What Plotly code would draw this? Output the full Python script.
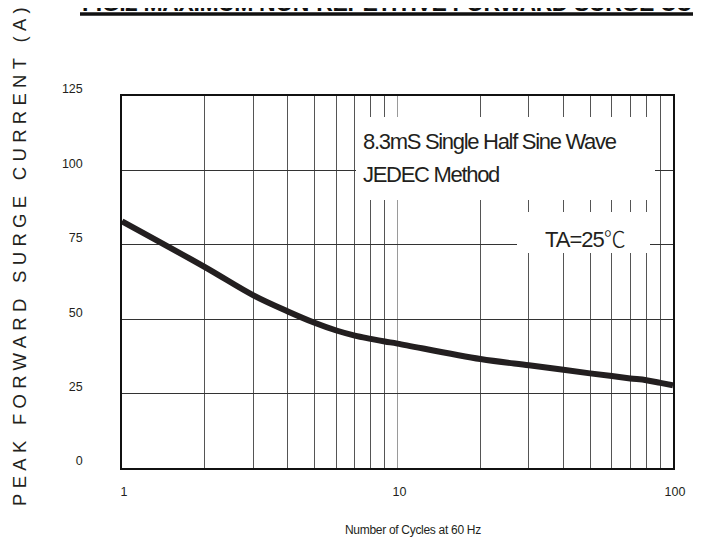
import plotly.graph_objects as go

# ---- data ----
cycles = [1, 2, 3, 4, 5, 6, 7, 8, 9, 10, 20, 30, 40, 50, 60, 70, 80, 90, 100]
surge_current = [82.9, 67.5, 58.0, 52.6, 48.8, 46.2, 44.5, 43.4, 42.5, 41.8,
                 36.6, 34.5, 33.0, 31.8, 30.9, 30.1, 29.5, 28.6, 27.8]
x_tickvals = [1, 10, 100]
x_ticktext = ["1", "10", "100"]
y_tickvals = [0, 25, 50, 75, 100, 125]
y_ticktext = ["0", "25", "50", "75", "100", "125"]

title_text = "FIG.2 MAXIMUM NON-REPETITIVE FORWARD SURGE CURRENT"
y_title = "PEAK FORWARD SURGE CURRENT (A)"
x_title = "Number of Cycles at 60 Hz"
note1_line1 = "8.3mS Single Half Sine Wave"
note1_line2 = "JEDEC Method"
note2 = "TA=25℃"

# ---- layout geometry (page pixels; the page body has an 8px margin) ----
OFF = 8
W, H = 701 - OFF, 538 - OFF
L, R, T, B = 122 - OFF, 28, 96 - OFF, 70
PW, PH = W - L - R, H - T - B

def px(xp):
    return (xp - OFF - L) / PW

def py(yp):
    return (H - B - (yp - OFF)) / PH

def tight(s, ls):
    return '<span style="letter-spacing:%spx">%s</span>' % (ls, s)

SANS = "Liberation Sans, Arial, sans-serif"
TXT = "#231f20"

fig = go.Figure()
fig.add_trace(go.Scatter(
    x=cycles, y=surge_current, mode="lines",
    line=dict(color=TXT, width=6, shape="spline", smoothing=1.0),
    hoverinfo="skip", showlegend=False,
))

fig.update_layout(
    width=W, height=H,
    margin=dict(l=L, r=R, t=T, b=B, pad=0),
    paper_bgcolor="white", plot_bgcolor="white",
    font=dict(family=SANS, color=TXT, size=13),
    showlegend=False,
)

fig.update_xaxes(
    type="log", range=[0, 2],
    tickvals=x_tickvals, ticktext=x_ticktext, ticks="",
    tickfont=dict(family=SANS, size=12.5, color=TXT),
    ticklabelstandoff=11, ticklabelshift=2,
    showgrid=True, gridcolor="#9a9a9a", gridwidth=1,
    minor=dict(showgrid=True, gridcolor="#555555", gridwidth=1, dtick="D1", ticks=""),
    showline=True, linecolor="#111111", linewidth=1.5, mirror=True,
    zeroline=False,
)
fig.update_yaxes(
    range=[0, 125], tickvals=y_tickvals, ticktext=y_ticktext, ticks="",
    tickfont=dict(family=SANS, size=12.5, color=TXT),
    ticklabelstandoff=35, ticklabelshift=-7,
    showgrid=True, gridcolor="#333333", gridwidth=1,
    showline=True, linecolor="#111111", linewidth=1.5, mirror=True,
    zeroline=False,
)

shapes = [
    dict(type="rect", xref="paper", yref="paper", x0=px(356), x1=px(655), y0=py(200), y1=py(117),
         fillcolor="white", line=dict(width=0), layer="above"),
    dict(type="rect", xref="paper", yref="paper", x0=px(517), x1=px(650), y0=py(253), y1=py(212),
         fillcolor="white", line=dict(width=0), layer="above"),
    dict(type="line", xref="paper", yref="paper", x0=px(80), x1=px(720), y0=py(14), y1=py(14),
         line=dict(color="#111111", width=3.5), layer="above"),
]
fig.update_layout(shapes=shapes)

note_font = dict(family=SANS, size=22, color=TXT)
deg_span = '<span style="font-family:\'Noto Sans CJK SC\';font-weight:300">℃</span>'
annotations = [
    dict(text=tight(note1_line1, -1.3), xref="paper", yref="paper", x=px(361), y=py(141.5),
         xanchor="left", yanchor="middle", align="left", showarrow=False, font=note_font),
    dict(text=tight(note1_line2, -1.3), xref="paper", yref="paper", x=px(361), y=py(174),
         xanchor="left", yanchor="middle", align="left", showarrow=False, font=note_font),
    dict(text=tight(note2.replace("℃", ""), -1.0) + deg_span, xref="paper", yref="paper",
         x=px(543), y=py(237), xanchor="left", yanchor="middle", align="left",
         showarrow=False, font=note_font),
    dict(text=tight(x_title, -0.3), xref="paper", yref="paper", x=px(413), y=py(530),
         xanchor="center", yanchor="middle", showarrow=False, font=dict(family=SANS, size=12, color=TXT)),
    dict(text=tight(y_title, 5.3), xref="paper", yref="paper",
         x=px(20), y=py(254), xanchor="center", yanchor="middle", textangle=-90,
         showarrow=False, font=dict(family=SANS, size=18.5, color=TXT)),
    dict(text="<b>" + tight(title_text, -0.4) + "</b>", xref="paper", yref="paper", x=px(80), y=py(3),
         xanchor="left", yanchor="middle", showarrow=False,
         font=dict(family=SANS, size=23, color="#111111")),
]
fig.update_layout(annotations=annotations)

fig.write_html("out.html")
